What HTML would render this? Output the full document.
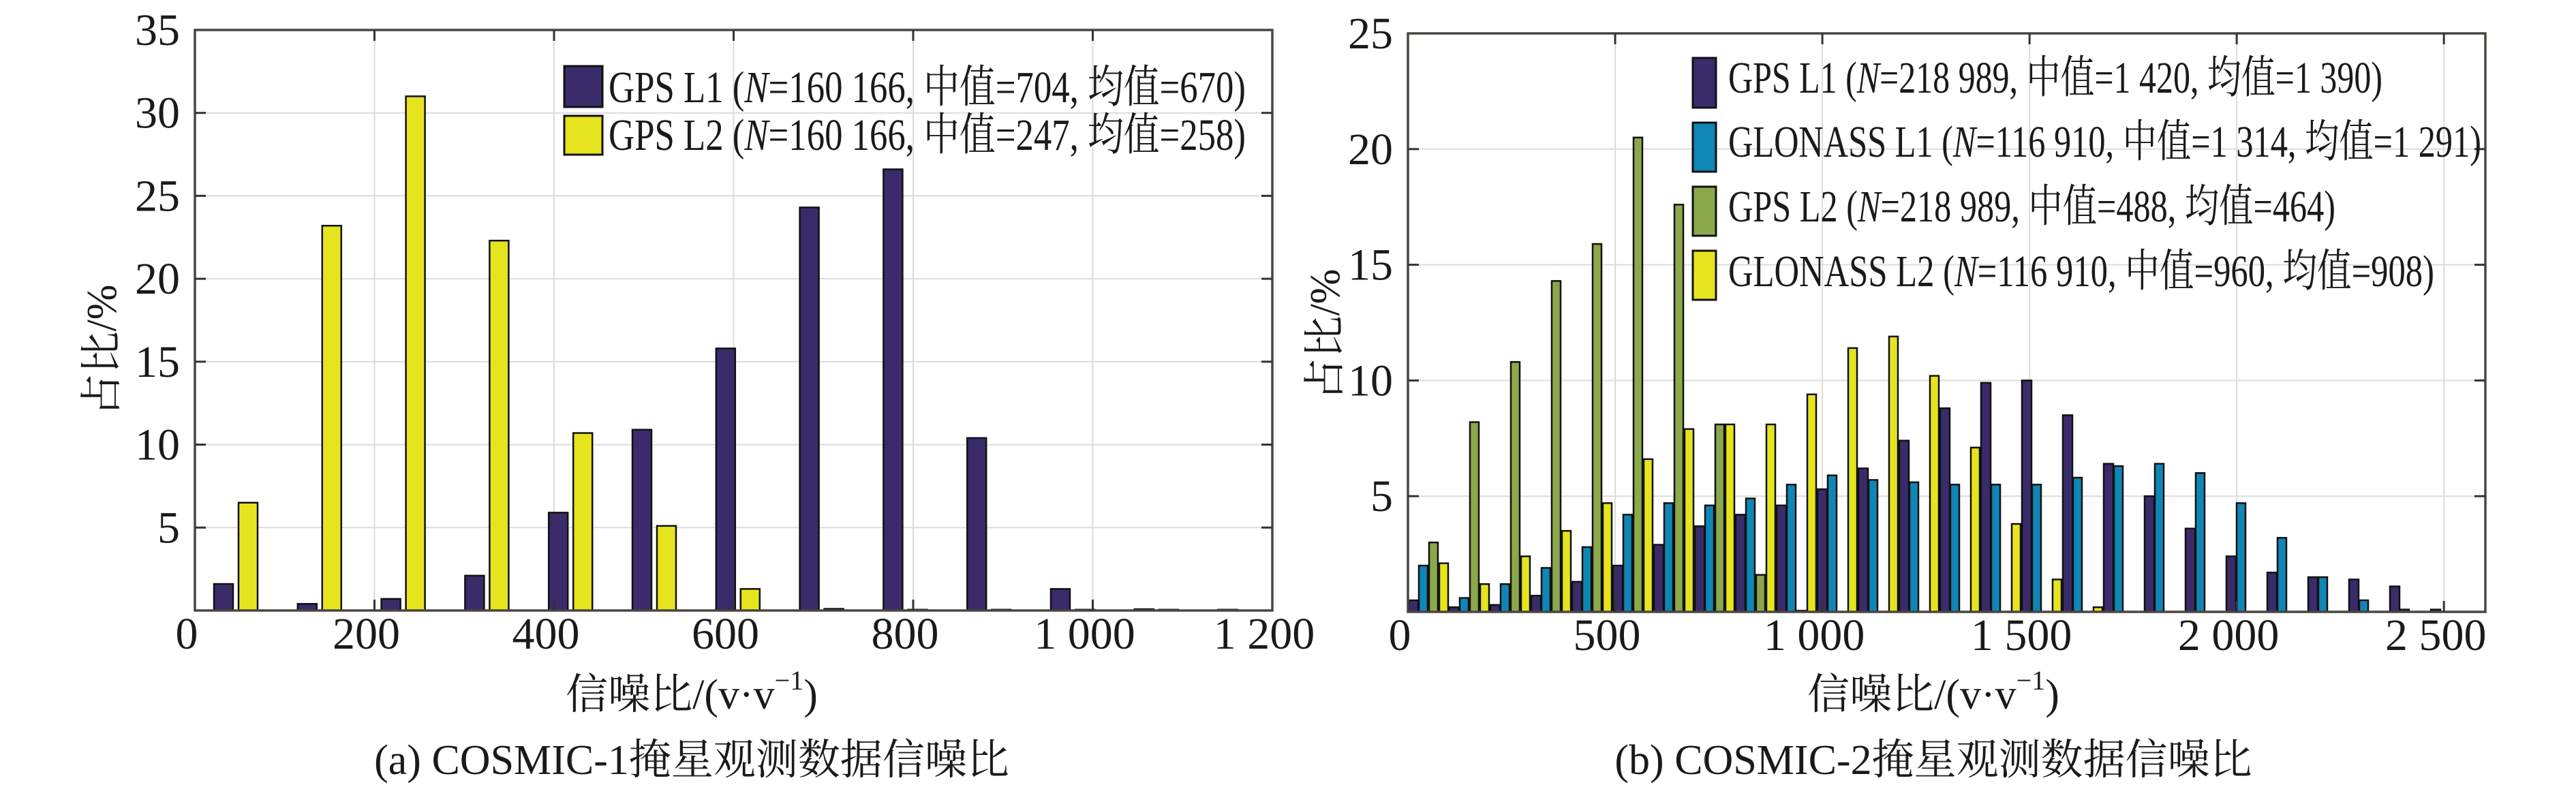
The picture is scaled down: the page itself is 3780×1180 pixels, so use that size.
<!DOCTYPE html>
<html><head><meta charset="utf-8"><style>
html,body{margin:0;padding:0;background:#fff;}
svg{display:block;}
text{font-family:"Liberation Serif","Noto Serif CJK SC",serif;fill:#1a1a1a;}
</style></head><body>
<svg id="s" width="3780" height="1180" xmlns="http://www.w3.org/2000/svg"></svg>
<script>
const s=document.getElementById('s');let h='';
function chart(o){
 const {L,R,T,B,xmax,ymax,xstep,ystep,xlabels}=o;
 const X=v=>L+(R-L)*v/xmax, Y=v=>B-(B-T)*v/ymax;
 for(let v=xstep;v<xmax;v+=xstep) h+=`<line x1="${X(v)}" y1="${T}" x2="${X(v)}" y2="${B}" stroke="#dcdcdc" stroke-width="2"/>`;
 for(let v=ystep;v<ymax;v+=ystep) h+=`<line x1="${L}" y1="${Y(v)}" x2="${R}" y2="${Y(v)}" stroke="#dcdcdc" stroke-width="2"/>`;
 o.series.forEach(se=>{se.vals.forEach((v,i)=>{if(v<=0)return;const x=o.x0+o.pitch*i+se.off;
  h+=`<rect x="${x}" y="${Y(v)}" width="${se.w}" height="${B-Y(v)}" fill="${se.c}" stroke="#111" stroke-width="2.5"/>`;});});
 h+=`<rect x="${L}" y="${T}" width="${R-L}" height="${B-T}" fill="none" stroke="#4a4540" stroke-width="3.5"/>`;
 for(let v=xstep;v<xmax;v+=xstep){h+=`<line x1="${X(v)}" y1="${T}" x2="${X(v)}" y2="${T+16}" stroke="#333" stroke-width="3"/><line x1="${X(v)}" y1="${B}" x2="${X(v)}" y2="${B-16}" stroke="#333" stroke-width="3"/>`;}
 for(let v=ystep;v<ymax;v+=ystep){h+=`<line x1="${L}" y1="${Y(v)}" x2="${L+16}" y2="${Y(v)}" stroke="#333" stroke-width="3"/><line x1="${R}" y1="${Y(v)}" x2="${R-16}" y2="${Y(v)}" stroke="#333" stroke-width="3"/>`;}
 for(let v=ystep;v<=ymax+0.01;v+=ystep) h+=`<text x="${L-22}" y="${Y(v)+22}" font-size="66" text-anchor="end">${v}</text>`;
 xlabels.forEach(([v,t])=>h+=`<text x="${X(v)-12}" y="${B+56}" font-size="66" text-anchor="middle">${t}</text>`);
 h+=`<text transform="translate(${o.ylx},${o.yly}) rotate(-90)" font-size="62" text-anchor="middle">占比/%</text>`;
 h+=`<text x="${o.xlx}" y="1040" font-size="62" text-anchor="middle">信噪比/(v·v<tspan font-size="40" dy="-28">−1</tspan><tspan dy="28">)</tspan></text>`;
 h+=`<text x="${o.xlx}" y="1136" font-size="62" text-anchor="middle">${o.cap}</text>`;
 o.leg.forEach(([c,t,bx,by,bw,bh,tx,ty,tl])=>{h+=`<rect x="${bx}" y="${by}" width="${bw}" height="${bh}" fill="${c}" stroke="#111" stroke-width="3"/>`;
  h+=`<text x="${tx}" y="${ty}" font-size="66" textLength="${tl}" lengthAdjust="spacingAndGlyphs">${t}</text>`;});
}
const P='#3a2b6b',Bl='#0f86b6',G='#8ba84b',Yw='#e6e41f';
chart({L:286,R:1867,T:44,B:896,xmax:1200,ymax:35,xstep:200,ystep:5,x0:314,pitch:122.8,
 xlabels:[[0,'0'],[200,'200'],[400,'400'],[600,'600'],[800,'800'],[1000,'1 000'],[1200,'1 200']],
 series:[{c:P,off:0,w:28,vals:[1.6,0.4,0.7,2.1,5.9,10.9,15.8,24.3,26.6,10.4,1.3,0.08,0.05]},
         {c:Yw,off:36,w:28,vals:[6.5,23.2,31.0,22.3,10.7,5.1,1.3,0.1,0.05,0.05,0.05,0.05]}],
 ylx:170,yly:514,xlx:1015,cap:'(a) COSMIC-1掩星观测数据信噪比',
 leg:[[P,'GPS L1 (<tspan font-style="italic">N</tspan>=160 166, 中值=704, 均值=670)',828,97,56,60,893,150,935],
      [Yw,'GPS L2 (<tspan font-style="italic">N</tspan>=160 166, 中值=247, 均值=258)',828,170,56,57,893,220,935]]});
chart({L:2066,R:3647,T:49,B:898,xmax:2600,ymax:25,xstep:500,ystep:5,x0:2067,pitch:60,
 xlabels:[[0,'0'],[500,'500'],[1000,'1 000'],[1500,'1 500'],[2000,'2 000'],[2500,'2 500']],
 series:[{c:P,off:0,w:14,vals:[0.5,0.2,0.3,0.7,1.3,2.0,2.9,3.7,4.2,4.6,5.3,6.2,7.4,8.8,9.9,10.0,8.5,6.4,5.0,3.6,2.4,1.7,1.5,1.4,1.1,0.1]},
         {c:Bl,off:15,w:13,vals:[2.0,0.6,1.2,1.9,2.8,4.2,4.7,4.6,4.9,5.5,5.9,5.7,5.6,5.5,5.5,5.5,5.8,6.3,6.4,6.0,4.7,3.2,1.5,0.5,0.1]},
         {c:G,off:30,w:13,vals:[3.0,8.2,10.8,14.3,15.9,20.5,17.6,8.1,1.6,0.05]},
         {c:Yw,off:45,w:13,vals:[2.1,1.2,2.4,3.5,4.7,6.6,7.9,8.1,8.1,9.4,11.4,11.9,10.2,7.1,3.8,1.4,0.2]}],
 ylx:1965,yly:491,xlx:2837,cap:'(b) COSMIC-2掩星观测数据信噪比',
 leg:[[P,'GPS L1 (<tspan font-style="italic">N</tspan>=218 989, 中值=1 420, 均值=1 390)',2484,85,34,73,2536,136,960],
      [Bl,'GLONASS L1 (<tspan font-style="italic">N</tspan>=116 910, 中值=1 314, 均值=1 291)',2484,180,34,72,2536,230,1105],
      [G,'GPS L2 (<tspan font-style="italic">N</tspan>=218 989, 中值=488, 均值=464)',2484,274,34,72,2536,325,891],
      [Yw,'GLONASS L2 (<tspan font-style="italic">N</tspan>=116 910, 中值=960, 均值=908)',2484,368,34,72,2536,420,1036]]});
s.innerHTML=h;
</script>
</body></html>
